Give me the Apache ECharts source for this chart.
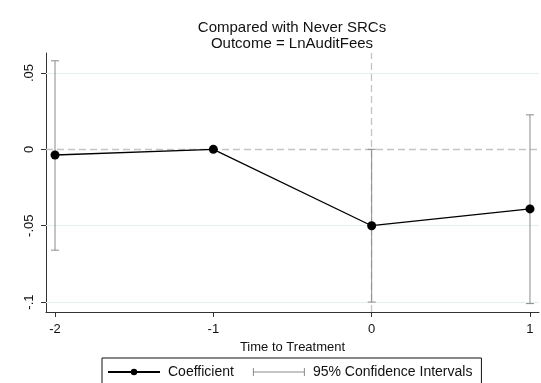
<!DOCTYPE html>
<html>
<head>
<meta charset="utf-8">
<script src="https://cdn.jsdelivr.net/npm/echarts@6/dist/echarts.min.js"></script>
<style>html,body{margin:0;padding:0;background:#fff}#c{width:541px;height:383px}</style>
</head>
<body>
<div id="c"></div>
<script>
var periods = [-2, -1, 0, 1];
var coef = [-0.0037, 0, -0.050, -0.039];
var ciLow = [-0.066, null, -0.100, -0.101];
var ciHigh = [0.058, null, 0.0, 0.0226];
var xTicks = [-2, -1, 0, 1];
var yTicks = [-0.1, -0.05, 0, 0.05];
var yTickLabels = ['-.1', '-.05', '0', '.05'];

var FONT = 'Liberation Sans, Arial, Helvetica, sans-serif';
var chart = echarts.init(document.getElementById('c'), null, {renderer: 'canvas'});

var lineData = periods.map(function (p, i) { return [p, coef[i]]; });
var ciData = [];
periods.forEach(function (p, i) {
  if (ciLow[i] !== null) ciData.push([p, ciLow[i], ciHigh[i]]);
});

var gridMarks = yTicks.filter(function (v) { return v !== 0; }).map(function (v) {
  return {yAxis: v, lineStyle: {color: '#e6eeee', type: 'solid', width: 1}};
});

var option = {
  animation: false,
  backgroundColor: '#fff',
  textStyle: {fontFamily: FONT},
  title: {
    text: 'Compared with Never SRCs\nOutcome = LnAuditFees',
    left: 292, top: 20, padding: 0, textAlign: 'center',
    textStyle: {fontFamily: FONT, fontSize: 15, fontWeight: 'normal', color: '#111', lineHeight: 16}
  },
  grid: {left: 46, right: 2, top: 53, bottom: 71},
  xAxis: {
    type: 'value', min: -2.057, max: 1.057,
    name: 'Time to Treatment', nameLocation: 'middle', nameGap: 24,
    nameTextStyle: {fontFamily: FONT, fontSize: 13, color: '#111'},
    axisLine: {show: true, onZero: false, lineStyle: {color: '#333', width: 1}},
    axisTick: {show: true, length: 5, customValues: xTicks, lineStyle: {color: '#333'}},
    axisLabel: {customValues: xTicks, margin: 11, fontSize: 13, color: '#111', fontFamily: FONT,
      formatter: function (v) { return String(v); }},
    splitLine: {show: false}
  },
  yAxis: {
    type: 'value', min: -0.1065, max: 0.0631,
    axisLine: {show: true, onZero: false, lineStyle: {color: '#333', width: 1}},
    axisTick: {show: true, length: 5, customValues: yTicks, lineStyle: {color: '#333'}},
    axisLabel: {customValues: yTicks, rotate: 90, margin: 10, fontSize: 13, color: '#111', fontFamily: FONT,
      formatter: function (v) {
        var idx = yTicks.findIndex(function (t) { return Math.abs(t - v) < 1e-9; });
        return idx >= 0 ? yTickLabels[idx] : '';
      }},
    splitLine: {show: false}
  },
  legend: {
    left: 102, top: 358,
    padding: [7, 9, 12, 5],
    borderColor: '#111', borderWidth: 1,
    itemWidth: 52, itemHeight: 8, itemGap: 19,
    textStyle: {fontFamily: FONT, fontSize: 14, color: '#111', padding: [0, 0, 0, 3]},
    data: [
      {name: 'Coefficient'},
      {name: '95% Confidence Intervals',
       icon: 'path://M0,0H1V8H0Z M0,3.5H52V4.5H0Z M51,0H52V8H51Z',
       itemStyle: {color: '#8c8c8c'}}
    ]
  },
  series: [
    {
      name: '95% Confidence Intervals',
      type: 'custom',
      z: 2,
      itemStyle: {color: '#8c8c8c'},
      data: ciData,
      renderItem: function (params, api) {
        var top = api.coord([api.value(0), api.value(2)]);
        var bot = api.coord([api.value(0), api.value(1)]);
        var hw = 4;
        var st = {stroke: '#8c8c8c', lineWidth: 1, fill: null};
        return {
          type: 'group',
          children: [
            {type: 'line', shape: {x1: top[0], y1: top[1], x2: bot[0], y2: bot[1]}, style: st},
            {type: 'line', shape: {x1: top[0] - hw, y1: top[1], x2: top[0] + hw, y2: top[1]}, style: st},
            {type: 'line', shape: {x1: bot[0] - hw, y1: bot[1], x2: bot[0] + hw, y2: bot[1]}, style: st}
          ]
        };
      }
    },
    {
      name: 'Coefficient',
      type: 'line',
      z: 3,
      data: lineData,
      symbol: 'circle',
      symbolSize: 9,
      itemStyle: {color: '#000'},
      lineStyle: {color: '#000', width: 1.3},
      markLine: {
        silent: true, symbol: 'none', label: {show: false}, z: 1,
        data: gridMarks.concat([
          {yAxis: 0, lineStyle: {color: '#c4c4c4', type: [7, 4], width: 1.3}},
          {xAxis: 0, lineStyle: {color: '#c4c4c4', type: [7, 4], width: 1.3}}
        ])
      }
    }
  ]
};
chart.setOption(option);
</script>
</body>
</html>
